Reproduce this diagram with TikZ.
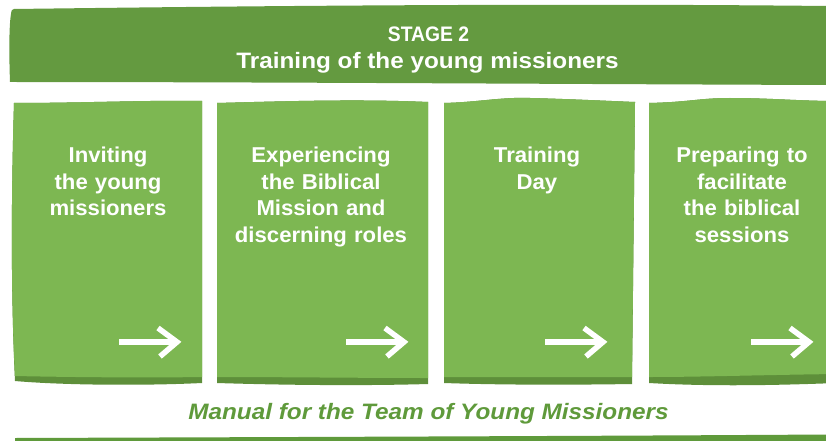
\documentclass[tikz,border=0pt]{standalone}
\usepackage{fontspec}
\setmainfont{Liberation Sans}
\newfontfamily\boxfont{Liberation Sans}[FakeStretch=1.03]
\newfontfamily\headfont{Liberation Sans}[FakeStretch=1.09]
\newfontfamily\stagefont{Liberation Sans}[FakeStretch=0.92]
\definecolor{bannergreen}{HTML}{649A40}
\definecolor{boxgreen}{HTML}{7DB752}
\definecolor{stripgreen}{HTML}{5E8F3A}
\definecolor{captiongreen}{HTML}{5F9A3B}
\tikzset{
  boxtext/.style={text=white, align=center, anchor=base, inner sep=0pt,
    text width=190pt, font=\boxfont\bfseries\fontsize{21.5}{26.7}\selectfont},
  flowarrow/.style={draw=white, line width=5.5pt, line join=miter, line cap=butt},
}
\begin{document}
\begin{tikzpicture}[x=1pt,y=-1pt]
\useasboundingbox (0,0) rectangle (826,441);

% heading banner
\fill[bannergreen] (14,9) .. controls (250,6) and (550,3) .. (826,6)
  -- (826,85) .. controls (550,84) and (250,82) .. (10,82)
  .. controls (9,55) and (9,25) .. (11,14) .. controls (11.5,10) and (12,9.3) .. (14,9) -- cycle;
\node[text=white, font=\stagefont\bfseries\fontsize{21}{24}\selectfont, anchor=base, inner sep=0pt]
  (stage) at (428.5,42) {STAGE 2};
\node[text=white, font=\headfont\bfseries\fontsize{22.3}{26}\selectfont, anchor=base, inner sep=0pt]
  (title) at (427.5,68.3) {Training of the young missioners};

% step boxes: darker lower strip first, lighter face on top
% box 1
\fill[stripgreen] (14,103) .. controls (80,103) and (150,100) .. (202,101) -- (202,383)
  .. controls (140,386) and (60,385) .. (15,381) .. controls (11,300) and (11,200) .. (14,103) -- cycle;
\fill[boxgreen] (14,103) .. controls (80,103) and (150,100) .. (202,101) -- (202,377)
  .. controls (140,378) and (60,377) .. (15,376) .. controls (11,300) and (11,200) .. (14,103) -- cycle;
% box 2
\fill[stripgreen] (217,103) .. controls (290,101) and (360,99) .. (428,102) -- (428,384)
  .. controls (360,386) and (280,385) .. (217,383) -- cycle;
\fill[boxgreen] (217,103) .. controls (290,101) and (360,99) .. (428,102) -- (428,378)
  .. controls (360,378) and (280,377) .. (217,377) -- cycle;
% box 3
\fill[stripgreen] (444,103) .. controls (480,102) and (500,97) .. (530,98)
  .. controls (570,99) and (610,101) .. (635,102) -- (632,384)
  .. controls (570,385) and (500,385) .. (444,383) -- cycle;
\fill[boxgreen] (444,103) .. controls (480,102) and (500,97) .. (530,98)
  .. controls (570,99) and (610,101) .. (635,102) -- (632,377)
  .. controls (570,377) and (500,377) .. (444,377) -- cycle;
% box 4
\fill[stripgreen] (649,103) .. controls (690,102) and (700,98) .. (730,98)
  .. controls (770,98) and (800,101) .. (836,101) -- (836,383)
  .. controls (760,386) and (700,386) .. (649,383) -- cycle;
\fill[boxgreen] (649,103) .. controls (690,102) and (700,98) .. (730,98)
  .. controls (770,98) and (800,101) .. (836,101) -- (836,374)
  .. controls (760,375) and (700,377) .. (649,377) -- cycle;

% step labels
\node[boxtext] (s1) at (108,162.5) {Inviting\\the young\\missioners};
\node[boxtext] (s2) at (321,162.5) {Experiencing\\the Biblical\\Mission and\\discerning roles};
\node[boxtext] (s3) at (537,162.5) {Training\\Day};
\node[boxtext] (s4) at (742,162.5) {Preparing to\\facilitate\\the biblical\\sessions};

% arrows pointing to the next step
\foreach \n/\tip in {1/177, 2/404, 3/603, 4/809} {
  \coordinate (tail\n) at (\tip-58,342);
  \coordinate (tip\n) at (\tip,342);
  \draw[flowarrow] (tail\n) -- ([xshift=-3pt]tip\n);
  \draw[flowarrow] ([shift={(-19,-14)}]tip\n) -- (tip\n) -- ([shift={(-17,14.5)}]tip\n);
}

% caption and bottom rule
\node[text=captiongreen, font=\headfont\bfseries\itshape\fontsize{22.3}{26}\selectfont, anchor=base, inner sep=0pt]
  (caption) at (428.5,419) {Manual for the Team of Young Missioners};
\fill[captiongreen] (15,438) .. controls (300,437) and (600,436) .. (826,434.5) -- (826,441) -- (15,441) -- cycle;
\end{tikzpicture}
\end{document}
